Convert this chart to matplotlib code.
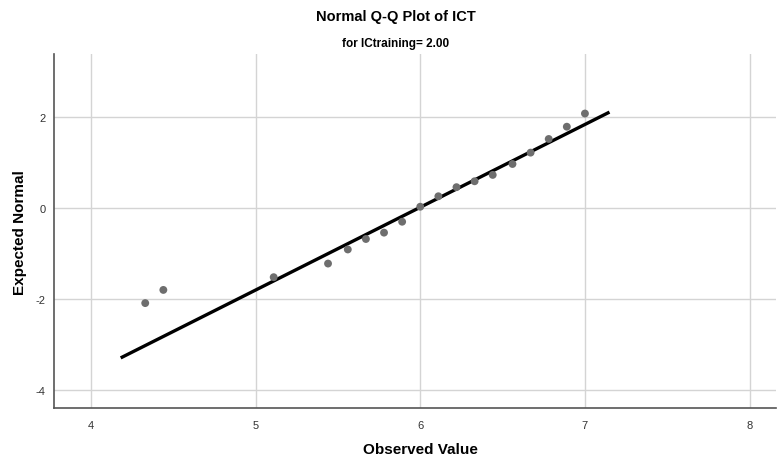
import numpy as np
import matplotlib.pyplot as plt

plt.rcParams['font.family'] = ['Liberation Sans', 'DejaVu Sans']
plt.rcParams['axes.unicode_minus'] = False

# observed ICT scores and their expected normal quantiles
observed = [4.33, 4.44, 5.11, 5.44, 5.56, 5.67, 5.78, 5.89, 6.00,
            6.11, 6.22, 6.33, 6.44, 6.56, 6.67, 6.78, 6.89, 7.00]
expected = [-2.09, -1.80, -1.52, -1.22, -0.91, -0.68, -0.54, -0.30, 0.03,
            0.26, 0.46, 0.59, 0.73, 0.97, 1.22, 1.52, 1.79, 2.08]

# reference line of the fitted normal
line_mean = 5.99
line_sd = 0.549
line_x = [4.19, 7.14]

fig = plt.figure(figsize=(7.78, 4.6), dpi=100)
ax = fig.add_axes([0.0694, 0.111, 0.928, 0.769])

ax.set_xlim(3.776, 8.16)
ax.set_ylim(-4.396, 3.385)
ax.set_xticks([4, 5, 6, 7, 8])
ax.set_yticks([-4, -2, 0, 2])
ax.grid(True, color='#d4d4d4', linewidth=1.0)
ax.set_axisbelow(True)

lx = np.array(line_x)
ax.plot(lx, (lx - line_mean) / line_sd, color='black', linewidth=2.4, zorder=3)
ax.scatter(observed, expected, s=32, color='#6e6e6e', edgecolors='none', zorder=4)

for side in ['top', 'right']:
    ax.spines[side].set_visible(False)
for side in ['left', 'bottom']:
    ax.spines[side].set_color('#555555')
    ax.spines[side].set_linewidth(1.2)
ax.tick_params(axis='x', length=0, labelsize=8, labelcolor='#333333', pad=9)
ax.tick_params(axis='y', length=0, labelsize=8, labelcolor='#333333', pad=6)

fig.text(0.541, 0.022, 'Observed Value', ha='center', va='center',
         fontsize=11, fontweight='bold')
fig.text(0.026, 0.495, 'Expected Normal', ha='center', va='center',
         rotation=90, fontsize=11, fontweight='bold')
fig.text(0.509, 0.963, 'Normal Q-Q Plot of ICT', ha='center', va='center',
         fontsize=10.5, fontweight='bold')
fig.text(0.509, 0.905, 'for ICtraining= 2.00', ha='center', va='center',
         fontsize=8.5, fontweight='bold')

fig.savefig('out.png', dpi=100)
